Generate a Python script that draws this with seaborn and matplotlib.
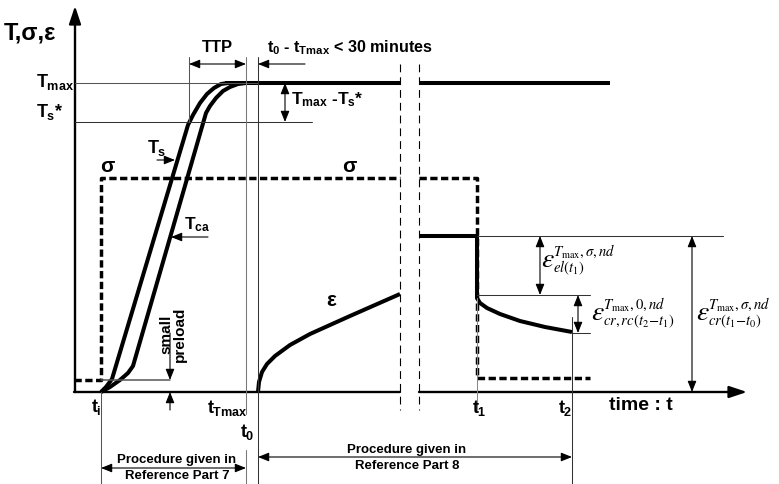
import matplotlib
matplotlib.use("Agg")
import matplotlib.pyplot as plt
import seaborn as sns

# ---------------- data (schematic, in drawing units; y grows downward) ----------------
ts_x = [101, 106, 112, 188, 193, 200, 207, 214, 221, 228]
ts_y = [392, 387, 379, 125, 115, 103, 94, 88, 84, 83]
tca_x = [101, 110, 120, 128, 133, 206, 210, 216, 223, 230, 238, 246]
tca_y = [392, 387, 380, 373, 366, 113, 106, 98, 91, 87, 84, 83]
tmax_x1 = [225, 400]
tmax_x2 = [419, 610]
tmax_level = 83
ts_star_level = 122
eps_x = [258, 259, 262, 267, 275, 290, 310, 330, 350, 375, 400]
eps_y = [392, 382, 372, 364, 356, 345, 334, 325, 316, 305, 294]
rec_x = [419, 477, 477, 480, 487, 500, 520, 545, 572]
rec_y = [236, 236, 298, 303, 308, 314, 321, 327, 332]
sig_x1 = [74, 101, 101, 400]
sig_y1 = [380, 380, 178, 178]
sig_x2 = [419, 477, 477, 590]
sig_y2 = [178, 178, 378, 378]

# key time positions
t_i, t_Tmax, t_0, t_1, t_2 = 101, 246, 258, 477, 572
x_axis_y = 392
break_a, break_b = 400, 419

sns.set_theme(style="white")
plt.rcParams["font.family"] = ["Liberation Sans", "DejaVu Sans"]
plt.rcParams["mathtext.fontset"] = "custom"
plt.rcParams["mathtext.rm"] = "Liberation Sans:bold"
plt.rcParams["mathtext.it"] = "Liberation Sans:bold"
plt.rcParams["mathtext.bf"] = "Liberation Sans:bold"
plt.rcParams["mathtext.sf"] = "Liberation Sans:bold"

fig = plt.figure(figsize=(7.79, 4.84), dpi=100)
ax = fig.add_axes([0, 0, 1, 1])
ax.set_xlim(0, 779)
ax.set_ylim(484, 0)
ax.axis("off")

K = "black"
THICK = 2.9
THIN = 0.75
GRAY = "#333333"

# ---- main curves via seaborn ----
for xs, ys in [(ts_x, ts_y), (tca_x, tca_y), (tmax_x1, [tmax_level] * 2),
               (tmax_x2, [tmax_level] * 2), (eps_x, eps_y), (rec_x, rec_y)]:
    sns.lineplot(x=xs, y=ys, sort=False, estimator=None, color=K, lw=THICK, ax=ax,
                 solid_capstyle="butt")
for xs, ys in [(sig_x1, sig_y1), (sig_x2, sig_y2)]:
    sns.lineplot(x=xs, y=ys, sort=False, estimator=None, color=K, lw=2.5, ax=ax,
                 linestyle=(0, (2.1, 1.0)))

# ---- axes ----
ax.plot([75, 75], [x_axis_y, 14], color=K, lw=1.7)
ax.plot([74, break_a], [x_axis_y, x_axis_y], color=K, lw=1.7)
ax.plot([break_b, 735], [x_axis_y, x_axis_y], color=K, lw=1.7)
ax.annotate("", xy=(75, 6), xytext=(75, 20),
            arrowprops=dict(arrowstyle="-|>,head_length=0.9,head_width=0.3", color=K,
                            lw=1.6, shrinkA=0, shrinkB=0, mutation_scale=12))
ax.annotate("", xy=(747, x_axis_y), xytext=(730, x_axis_y),
            arrowprops=dict(arrowstyle="-|>,head_length=0.9,head_width=0.3", color=K,
                            lw=1.6, shrinkA=0, shrinkB=0, mutation_scale=12))

# axis break dashed lines
for xb in (break_a, break_b):
    ax.plot([xb, xb], [64, 410], color=K, lw=0.8, linestyle=(0, (7, 4.5)))

# ---- thin guide lines ----
def thin(xs, ys, c=GRAY, lw=THIN):
    ax.plot(xs, ys, color=c, lw=lw)

thin([75, 258], [tmax_level, tmax_level], c="#555555")
thin([75, 312], [ts_star_level, ts_star_level])
thin([189, 189], [57, ts_star_level], c="#555555")
thin([t_Tmax, t_Tmax], [57, 414], c="#777777")
thin([t_Tmax, t_Tmax], [450, 484], c="#777777")
thin([t_0, t_0], [57, 484])
thin([t_i, t_i], [x_axis_y, 484], c="#555555")
thin([t_i, 170], [380, 380], c="#555555", lw=1.1)
thin([t_1, 723], [236, 236])
thin([t_1, 590], [295, 295])
thin([t_2, 590], [333, 333])
thin([t_1, t_1], [298, 410], c="#888888")
thin([t_2, t_2], [317, 484])

# ---- arrows ----
def arrow(x0, y0, x1, y1, both=False):
    style = "<|-|>" if both else "-|>"
    ax.annotate("", xy=(x1, y1), xytext=(x0, y0),
                arrowprops=dict(arrowstyle=style + ",head_length=0.55,head_width=0.22",
                                color=K, lw=0.8, shrinkA=0, shrinkB=0, mutation_scale=12))

arrow(189, 64, 246, 64, both=True)
arrow(305, 64, 258, 64)
arrow(285, 83, 285, 122, both=True)
arrow(157, 160, 175, 160)
arrow(208, 237, 171, 237)
arrow(170, 333, 170, 380)
arrow(170, 410, 170, 392)
arrow(540, 236, 540, 295, both=True)
arrow(578, 295, 578, 333, both=True)
arrow(692, 236, 692, 392, both=True)
arrow(101, 468, 246, 468, both=True)
arrow(258, 457, 572, 457, both=True)

# ---- texts ----
def txt(x, y, s, size=11, ha="left", va="center", **kw):
    ax.text(x, y, s, fontsize=size, ha=ha, va=va, fontweight="bold", color=K, **kw)

txt(4, 33, "T,σ,ε", size=17)
txt(74, 82, r"$T_{max}$", size=13, ha="right")
txt(36, 112, r"$T_{s}$*", size=13)
txt(202, 48, "TTP", size=12)
txt(267, 48, r"$t_{0}$ - $t_{Tmax}$ < 30 minutes", size=11.6)
txt(291, 100, r"$T_{max}$ -$T_{s}$*", size=12.5)
txt(147, 148, r"$T_{s}$", size=13)
txt(184, 225, r"$T_{ca}$", size=12.5)
txt(100, 166, "σ", size=15)
txt(342, 166, "σ", size=15)
txt(326, 300, "ε", size=15)
txt(173, 334, "small\npreload", size=11, ha="center", rotation=90,
    multialignment="center", linespacing=1.0)
txt(91, 407, r"$t_{i}$", size=13)
txt(207, 408, r"$t_{Tmax}$", size=13)
txt(240, 432, r"$t_{0}$", size=13)
txt(472, 408, r"$t_{1}$", size=13)
txt(558, 408, r"$t_{2}$", size=13)
txt(609, 406, "time : t", size=14)
txt(177, 460, "Procedure given in", size=9.5, ha="center")
txt(177, 476, "Reference Part 7", size=9.5, ha="center")
txt(407, 450, "Procedure given in", size=9.5, ha="center")
txt(407, 466, "Reference Part 8", size=9.5, ha="center")

# epsilon labels (serif italic)
def eps_label(x, y, sup, sub):
    kw = dict(math_fontfamily="stix", ha="left", va="center", color=K,
              fontweight="normal")
    ax.text(x, y, r"$\varepsilon$", fontsize=20, **kw)
    ax.text(x + 12, y - 9, "$" + sup + "$", fontsize=10.5, **kw)
    ax.text(x + 12, y + 8, "$" + sub + "$", fontsize=10.5, **kw)

eps_label(541, 260, r"T_{\max},\sigma,nd", r"el(t_1)")
eps_label(591, 313, r"T_{\max},0,nd", r"cr,rc(t_2\!-\!t_1)")
eps_label(696, 313, r"T_{\max},\sigma,nd", r"cr(t_1\!-\!t_0)")

fig.savefig("out.png", dpi=100)
